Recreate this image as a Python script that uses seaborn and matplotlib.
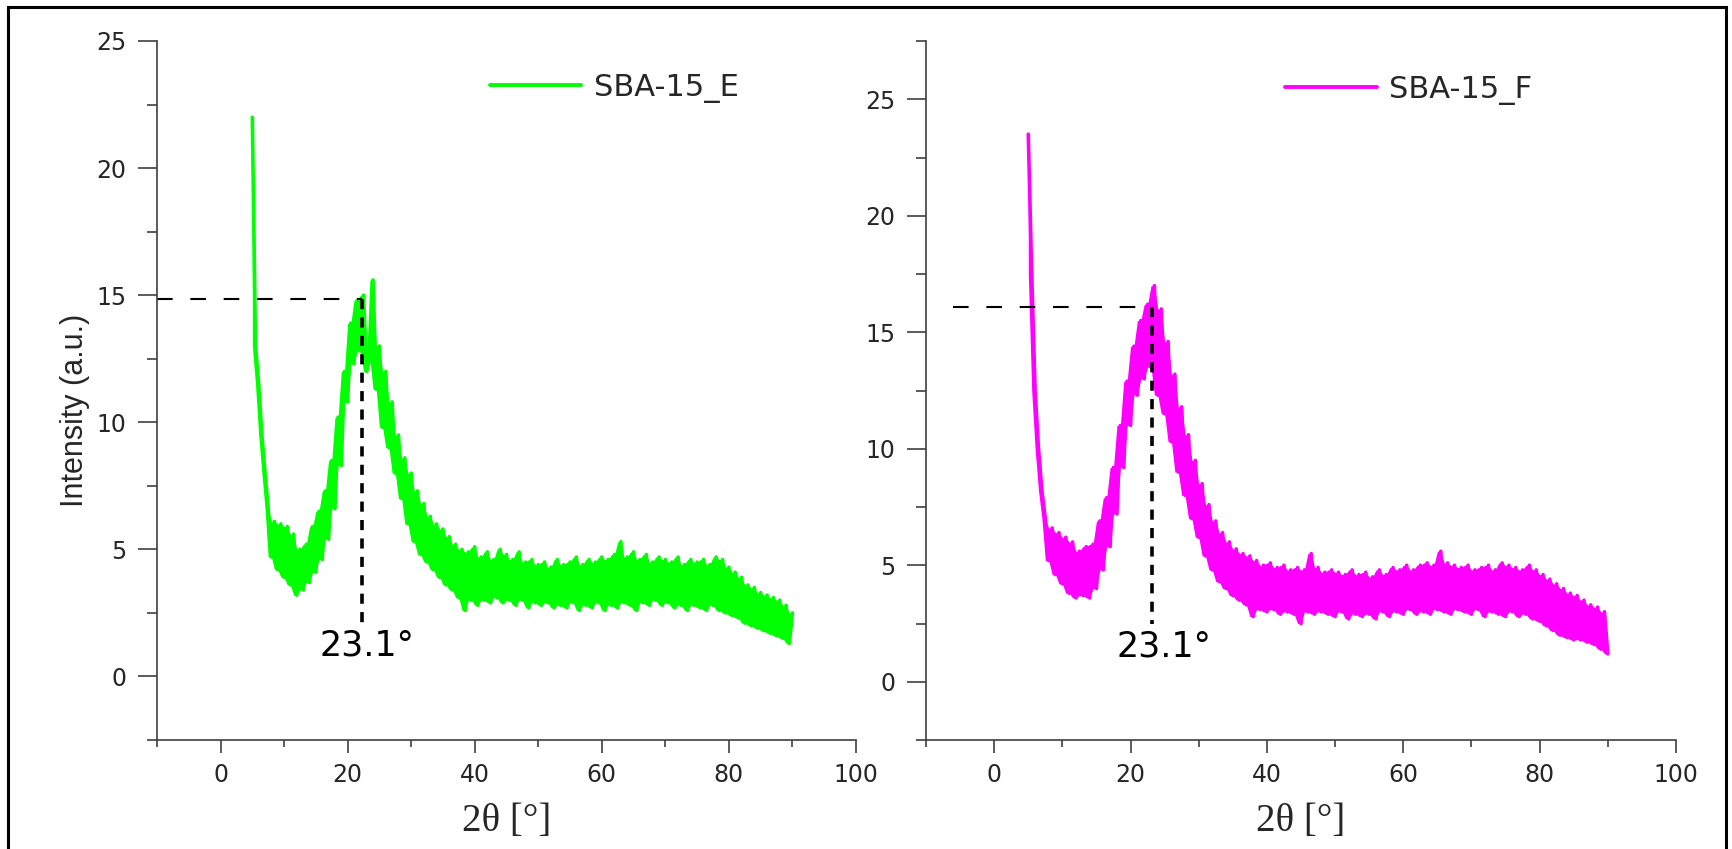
import numpy as np
import matplotlib
matplotlib.use("Agg")
import matplotlib.pyplot as plt
import seaborn as sns
from matplotlib.ticker import MultipleLocator
from matplotlib.patches import Rectangle

# 2theta grid (0.5 deg steps, 5 -> 90)
two_theta = np.arange(5, 90.5, 0.5)

# SBA-15_E trace (alternating upper/lower edge of the noisy band)
sba_e = [
    22.0, 13.0, 11.5, 9.5, 8.0, 6.6, 4.7, 6.1, 4.2, 6.0,
    3.9, 5.9, 3.6, 5.6, 3.2, 5.0, 3.4, 5.2, 3.7, 5.9,
    4.1, 6.5, 4.6, 7.3, 5.4, 8.5, 6.6, 10.2, 8.3, 12.0,
    10.8, 13.9, 12.3, 14.8, 12.8, 15.0, 12.0, 12.5, 15.6, 11.3,
    13.0, 9.8, 12.0, 9.0, 10.8, 8.0, 9.5, 7.0, 8.6, 6.0,
    8.0, 5.3, 7.3, 4.8, 6.8, 4.5, 6.3, 4.2, 6.0, 3.9,
    5.8, 3.6, 5.5, 3.4, 5.2, 3.1, 5.0, 2.6, 4.9, 3.0,
    5.1, 2.8, 4.7, 3.0, 4.9, 2.9, 4.6, 3.1, 5.0, 2.9,
    4.8, 3.0, 4.6, 2.8, 4.9, 3.0, 4.5, 2.7, 4.6, 2.9,
    4.4, 2.8, 4.5, 2.9, 4.3, 2.7, 4.6, 2.8, 4.4, 2.7,
    4.5, 2.9, 4.7, 2.6, 4.4, 2.8, 4.6, 2.7, 4.5, 2.9,
    4.7, 2.6, 4.6, 2.8, 4.8, 2.7, 5.3, 2.9, 4.7, 2.8,
    4.9, 2.6, 4.6, 2.9, 4.8, 2.8, 4.5, 3.0, 4.7, 2.8,
    4.6, 2.9, 4.5, 2.7, 4.7, 2.8, 4.4, 2.6, 4.6, 2.8,
    4.5, 2.7, 4.6, 2.6, 4.4, 2.8, 4.7, 2.6, 4.6, 2.5,
    4.3, 2.4, 4.1, 2.3, 3.9, 2.1, 3.6, 2.0, 3.5, 1.9,
    3.3, 1.8, 3.2, 1.7, 3.1, 1.6, 3.0, 1.5, 2.8, 1.3,
    2.5,
]

# SBA-15_F trace
sba_f = [
    23.5, 17.5, 12.5, 10.0, 8.2, 7.0, 5.2, 6.6, 4.6, 6.4,
    4.2, 6.2, 3.8, 6.0, 3.6, 5.6, 3.7, 5.8, 3.6, 5.9,
    4.0, 6.9, 4.8, 7.9, 5.8, 9.2, 7.2, 11.0, 9.2, 12.9,
    11.0, 14.4, 12.3, 15.5, 13.0, 16.2, 13.5, 17.0, 12.3, 16.0,
    11.5, 14.6, 10.3, 13.2, 9.0, 11.8, 8.0, 10.6, 7.0, 9.5,
    6.2, 8.5, 5.4, 7.6, 4.8, 6.9, 4.3, 6.4, 4.0, 6.0,
    3.7, 5.7, 3.5, 5.5, 3.3, 5.4, 2.8, 5.2, 3.1, 5.0,
    3.0, 5.1, 3.1, 4.9, 2.9, 5.0, 3.0, 4.8, 2.9, 4.9,
    2.5, 4.8, 3.0, 5.5, 2.9, 4.9, 3.0, 4.7, 2.9, 4.8,
    2.8, 4.7, 3.0, 4.6, 2.7, 4.8, 2.9, 4.6, 2.8, 4.7,
    2.9, 4.5, 2.7, 4.8, 3.0, 4.6, 2.8, 4.9, 3.0, 4.8,
    2.9, 5.0, 3.1, 4.8, 2.9, 5.0, 3.0, 5.1, 2.9, 5.0,
    3.1, 5.6, 3.0, 5.1, 2.9, 5.0, 3.1, 4.9, 3.0, 5.0,
    2.9, 4.8, 3.1, 4.9, 2.8, 5.0, 3.0, 4.8, 2.9, 5.1,
    2.8, 5.0, 3.0, 4.9, 2.8, 4.8, 2.9, 5.0, 2.7, 4.8,
    2.6, 4.6, 2.4, 4.4, 2.2, 4.2, 2.0, 4.0, 1.9, 3.8,
    1.8, 3.7, 1.8, 3.5, 1.7, 3.3, 1.6, 3.2, 1.4, 3.0,
    1.2,
]

labels = ["SBA-15_E", "SBA-15_F"]
colors = ["#00ff00", "#ff00ff"]
peak_x = [22.3, 23.2]       # dashed marker position
peak_y = [14.85, 16.1]
guide_start = [-10, -6]     # where the horizontal dashed guide starts
guide_bottom = [2.1, 2.5]   # where the vertical dashed guide stops
peak_text = ["23.1°", "23.1°"]
ylims = [(-2.5, 25), (-2.5, 27.5)]

sns.set_style("ticks")
plt.rcParams["font.family"] = ["DejaVu Sans"]

fig = plt.figure(figsize=(17.33, 8.49), dpi=100)
ax1 = fig.add_axes([157 / 1733, 1 - 740 / 849, 699 / 1733, 699 / 849])
ax2 = fig.add_axes([926 / 1733, 1 - 740 / 849, 750 / 1733, 699 / 849])

# outer frame around the whole figure
fig.patches.append(Rectangle((8 / 1733, -0.05), 1718 / 1733, 1.05 - 7 / 849,
                             transform=fig.transFigure, fill=False,
                             edgecolor="black", lw=2.2))

legend_anchor = [(0.476, 0.933), (0.479, 0.930)]
text_pos = [(23.1, 1.2), (24.9, 1.5)]

for i, ax in enumerate([ax1, ax2]):
    y = np.array([sba_e, sba_f][i])
    # noise band: envelope of neighbouring readings, filled solid
    hi = np.maximum(y, np.r_[y[1:], y[-1]])
    lo = np.minimum(y, np.r_[y[1:], y[-1]])
    hi[0], lo[0] = y[0], y[1]
    ax.fill_between(two_theta, lo, hi, color=colors[i], lw=0)
    sns.lineplot(x=two_theta, y=y, ax=ax, color=colors[i], lw=2.6,
                 sort=False, estimator=None, label=labels[i])

    # dashed guides to the peak
    ax.plot([guide_start[i], peak_x[i]], [peak_y[i], peak_y[i]], color="black",
            lw=1.5, dashes=(7.5, 8.5))
    ax.plot([peak_x[i], peak_x[i]], [peak_y[i], guide_bottom[i]], color="black",
            lw=2.6, dashes=(2.8, 2.3))
    ax.text(text_pos[i][0], text_pos[i][1], peak_text[i], fontsize=25,
            ha="center", va="center", color="black")

    ax.set_xlim(-10, 100)
    ax.set_ylim(*ylims[i])
    ax.xaxis.set_major_locator(MultipleLocator(20))
    ax.xaxis.set_minor_locator(MultipleLocator(10))
    ax.yaxis.set_major_locator(MultipleLocator(5))
    ax.yaxis.set_minor_locator(MultipleLocator(2.5))

    sns.despine(ax=ax)
    for s in ["left", "bottom"]:
        ax.spines[s].set_color("#404040")
        ax.spines[s].set_linewidth(1.2)
    ax.tick_params(axis="x", which="major", length=9.5, width=1.2, color="#404040",
                   labelsize=17, pad=7, direction="out")
    ax.tick_params(axis="x", which="minor", length=5, width=1.2, color="#404040",
                   direction="out")
    ax.tick_params(axis="y", which="major", length=14, width=1.2, color="#404040",
                   labelsize=17, pad=8, direction="out")
    ax.tick_params(axis="y", which="minor", length=7, width=1.2, color="#404040",
                   direction="out")

    ax.set_xlabel("2θ [°]", fontsize=28, family=["Liberation Serif", "DejaVu Serif"])
    ax.xaxis.set_label_coords(0.5, -0.09)

    leg = ax.legend(loc="center left", bbox_to_anchor=legend_anchor[i], frameon=False,
                    fontsize=22, handlelength=3.0, handletextpad=0.4,
                    borderpad=0, borderaxespad=0)
    for h in leg.get_lines():
        h.set_linewidth(2.8)

ax1.set_ylabel("Intensity (a.u.)", fontsize=22,
               family=["Liberation Sans Narrow", "Liberation Sans", "DejaVu Sans"])
ax1.yaxis.set_label_coords(-0.096, 0.472)
ax2.set_ylabel("")

fig.savefig("out.png", dpi=100)
